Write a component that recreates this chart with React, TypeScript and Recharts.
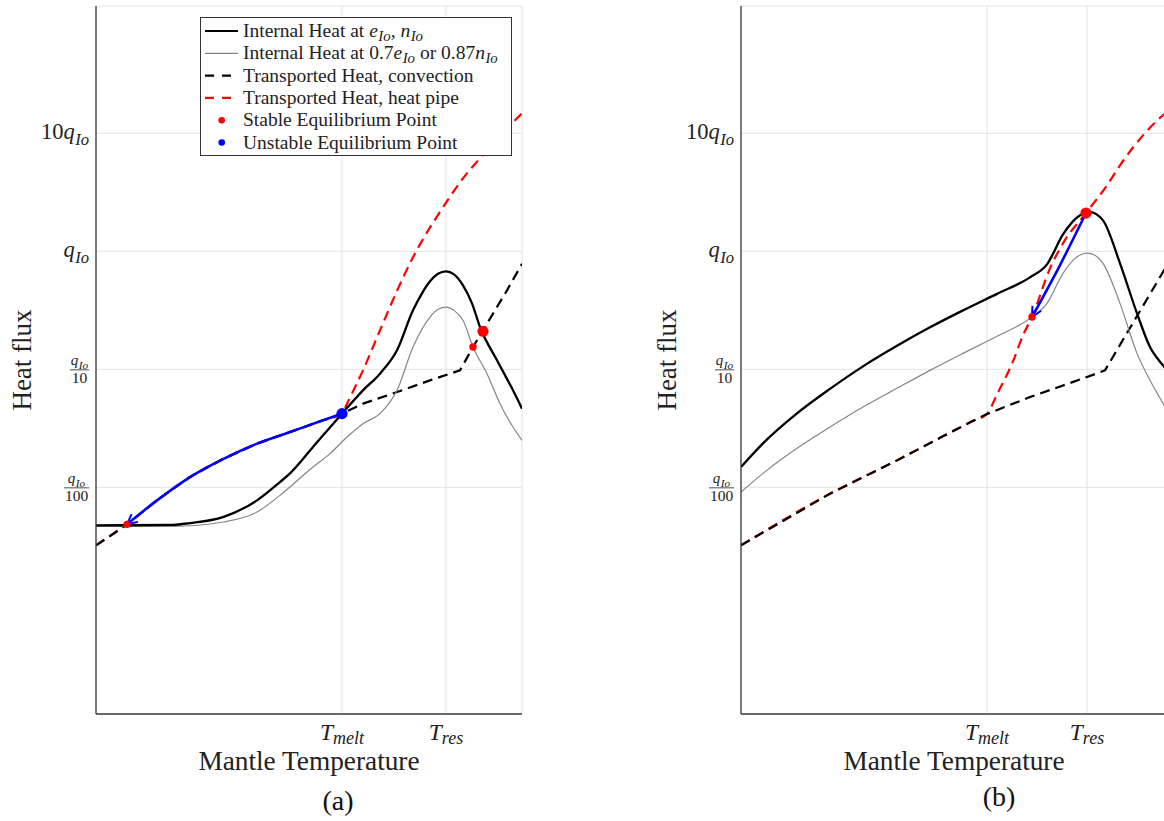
import React from 'react';
import { ComposedChart, Line, Scatter, XAxis, YAxis, CartesianGrid, Legend } from 'recharts';

type Pt = [number, number];

// ---------------- axes ----------------
// x: mantle temperature (arbitrary units across the plotted range)
// y: heat flux in units of q_Io (log scale)
const X_DOMAIN: [number, number] = [0, 426];
const Y_DOMAIN: [number, number] = [1.2e-4, 120];
const yTickValues = [0.01, 0.1, 1, 10];
const yTickPrefix = ['', '', '', '10'];
const yTickDenominator = ['100', '10', '', ''];
const xTickSubscripts = ['melt', 'res'];
const xTicksA = [246, 350];
const xTicksB = [246, 346];

// ---------------- panel (a) ----------------
const internalHeatA: Pt[] = [
  [0, 0.004764], [77, 0.004812], [94, 0.004983], [127, 0.005602], [161, 0.007759], [184, 0.01109],
  [194, 0.01314], [217, 0.02196], [246, 0.04212], [267, 0.06637], [284, 0.09196], [301, 0.1449],
  [317, 0.3162], [326, 0.4406], [334, 0.5568], [342, 0.6446], [350, 0.6768], [358, 0.6383],
  [367, 0.515], [376, 0.3624], [384, 0.2284], [401, 0.1192], [417, 0.06637], [426, 0.04644],
];
const internalHeatLowA: Pt[] = [
  [0, 0.004671], [77, 0.00467], [127, 0.005082], [161, 0.006176], [184, 0.00855], [217, 0.01486],
  [234, 0.0193], [251, 0.02669], [267, 0.03466], [284, 0.04212], [301, 0.06637], [317, 0.1545],
  [334, 0.2774], [342, 0.3225], [350, 0.3373], [358, 0.3162], [367, 0.2602], [377, 0.1545],
  [391, 0.09196], [404, 0.05121], [417, 0.03243], [426, 0.02502],
];
const convectionA: Pt[] = [
  [0, 0.003225], [31, 0.004858], [61, 0.007759], [94, 0.01223], [127, 0.01737], [161, 0.02346],
  [194, 0.02942], [227, 0.03697], [246, 0.04212], [267, 0.05121], [301, 0.06421], [334, 0.08068],
  [364, 0.09806], [377, 0.1545], [387, 0.2141], [411, 0.4671], [426, 0.7837],
];
const heatPipeA: Pt[] = [
  [0, 0.003225], [31, 0.004858], [61, 0.007759], [94, 0.01223], [127, 0.01737], [161, 0.02346],
  [194, 0.02942], [227, 0.03697], [246, 0.04212], [251, 0.05121], [267, 0.09806], [284, 0.2141],
  [299, 0.4238], [317, 0.8895], [324, 1.146], [347, 2.36], [367, 4.155], [384, 6.14], [421, 13.4],
  [426, 14.77],
];
const arrowPathA: Pt[] = [
  [31, 0.004858], [61, 0.007759], [94, 0.01223], [127, 0.01737], [161, 0.02346], [194, 0.02942],
  [227, 0.03697], [246, 0.04212],
];
const stableBigA: Pt[] = [[387, 0.2099]];
const stableSmallA: Pt[] = [[31, 0.004858], [377, 0.1545]];
const unstableA: Pt[] = [[246, 0.04212]];

// ---------------- panel (b) ----------------
const internalHeatB: Pt[] = [
  [0, 0.01486], [22, 0.0236], [56, 0.04236], [89, 0.06835], [122, 0.106], [156, 0.1582],
  [189, 0.227], [222, 0.3162], [256, 0.4363], [289, 0.6021], [306, 0.7758], [322, 1.393],
  [339, 2.019], [349, 2.153], [362, 1.831], [379, 0.7913], [396, 0.2982], [409, 0.1545],
  [422, 0.1081], [426, 0.09806],
];
const internalHeatLowB: Pt[] = [
  [0, 0.009125], [22, 0.01314], [56, 0.02141], [89, 0.03243], [122, 0.04792], [156, 0.06902],
  [189, 0.09806], [222, 0.1366], [256, 0.1905], [289, 0.2704], [306, 0.3624], [322, 0.651],
  [334, 0.8721], [346, 0.9674], [354, 0.925], [362, 0.7913], [379, 0.3624], [396, 0.1366],
  [409, 0.08068], [422, 0.05151], [426, 0.04494],
];
const convectionB: Pt[] = [
  [0, 0.003225], [89, 0.00884], [156, 0.01693], [200, 0.02653], [230, 0.0359], [246, 0.04179],
  [289, 0.05826], [346, 0.08604], [364, 0.09806], [389, 0.2243], [409, 0.4346], [422, 0.6677],
  [426, 0.7628],
];
const heatPipeB: Pt[] = [
  [0, 0.003225], [89, 0.00884], [156, 0.01693], [200, 0.02653], [230, 0.0359], [246, 0.04179],
  [256, 0.06138], [272, 0.1169], [282, 0.1942], [291, 0.2774], [309, 0.7178], [322, 1.169],
  [345, 2.112], [366, 3.625], [379, 5.356], [402, 9.616], [419, 13.53], [426, 15.21],
];
const arrowPathB: Pt[] = [[291, 0.2774], [318, 0.736], [345, 2.112]];
const stableBigB: Pt[] = [[345, 2.112]];
const stableSmallB: Pt[] = [[291, 0.2774]];
const unstableB: Pt[] = [];

// ---------------- legend ----------------
type Part = [string, 'n' | 'i' | 's'];
const legendLabels: Part[][] = [
  [['Internal Heat at ', 'n'], ['e', 'i'], ['Io', 's'], [', ', 'n'], ['n', 'i'], ['Io', 's']],
  [['Internal Heat at 0.7', 'n'], ['e', 'i'], ['Io', 's'], [' or 0.87', 'n'], ['n', 'i'], ['Io', 's']],
  [['Transported Heat, convection', 'n']],
  [['Transported Heat, heat pipe', 'n']],
  [['Stable Equilibrium Point', 'n']],
  [['Unstable Equilibrium Point', 'n']],
];

// ---------------- styles ----------------
const FONT = '"Liberation Serif", "Times New Roman", serif';
const TEXT = '#222';
const AXIS = '#3a3a3a';
const GRID = '#e3e3e3';
const RED = '#ff0000';
const BLUE = '#0000ff';
const GRAY = '#858585';
const DASH = '10 6';

const rows = (pts: Pt[]) => pts.map(([x, y]) => ({ x, y }));

function renderParts(parts: Part[], size: number, subScale = 0.75, subShift = 0.22) {
  let shift = 0;
  return parts.map(([t, k], j) => {
    const target = k === 's' ? size * subShift : 0;
    const dy = target - shift;
    shift = target;
    return (
      <tspan
        key={j}
        dy={dy !== 0 ? dy : undefined}
        dx={k === 's' ? 0.5 : undefined}
        fontStyle={k === 'n' ? 'normal' : 'italic'}
        fontSize={k === 's' ? size * subScale : size}
      >
        {t}
      </tspan>
    );
  });
}

function YTick(props: any) {
  const { x, y, payload } = props;
  const i = yTickValues.indexOf(payload.value);
  if (i < 0) return null;
  const den = yTickDenominator[i];
  const pre = yTickPrefix[i];
  const right = x + 1;
  if (den) {
    const w = den.length === 3 ? 25 : 19;
    const cx = right - w / 2;
    return (
      <g fill={TEXT} fontFamily={FONT}>
        <text x={cx} y={y - 4} textAnchor="middle" fontSize={15} style={{ whiteSpace: 'pre' }}>
          {renderParts([['q', 'i'], ['Io', 's']], 15, 0.75, 0.25)}
        </text>
        <line x1={right - w} x2={right} y1={y + 0.5} y2={y + 0.5} stroke={TEXT} strokeWidth={0.8} />
        <text x={cx} y={y + 14} textAnchor="middle" fontSize={15.5}>{den}</text>
      </g>
    );
  }
  const parts: Part[] = pre ? [[pre, 'n'], ['q', 'i'], ['Io', 's']] : [['q', 'i'], ['Io', 's']];
  return (
    <text x={right} y={y + 6} textAnchor="end" fill={TEXT} fontFamily={FONT} fontSize={22.5} style={{ whiteSpace: 'pre' }}>
      {renderParts(parts, 22.5, 0.74, 0.25)}
    </text>
  );
}

function XTick(props: any) {
  const { x, y, index } = props;
  return (
    <text x={x} y={y + 18} textAnchor="middle" fill={TEXT} fontFamily={FONT} fontStyle="italic" fontSize={23.5}>
      <tspan>T</tspan>
      <tspan fontSize={18} dy={4}>{xTickSubscripts[index]}</tspan>
    </text>
  );
}

function XLabel(props: any) {
  const vb = props.viewBox || { x: 96, width: 426 };
  return (
    <text x={vb.x + vb.width / 2} y={770} textAnchor="middle" fill={TEXT} fontFamily={FONT} fontSize={27.3}>
      Mantle Temperature
    </text>
  );
}

function YLabel() {
  return (
    <text x={31} y={360} transform="rotate(-90 31 360)" textAnchor="middle" fill={TEXT} fontFamily={FONT} fontSize={27}>
      Heat flux
    </text>
  );
}

function LegendBox() {
  const rowY = (i: number) => 14 + i * 22.3;
  return (
    <svg width={312} height={139} style={{ display: 'block' }}>
      <rect x={0.5} y={0.5} width={311} height={138} fill="#fff" stroke="#333" strokeWidth={1} />
      <line x1={5} x2={38} y1={rowY(0)} y2={rowY(0)} stroke="#000" strokeWidth={2.2} />
      <line x1={5} x2={38} y1={rowY(1)} y2={rowY(1)} stroke={GRAY} strokeWidth={1.2} />
      <line x1={5} x2={38} y1={rowY(2)} y2={rowY(2)} stroke="#000" strokeWidth={2.2} strokeDasharray="9 8" />
      <line x1={5} x2={38} y1={rowY(3)} y2={rowY(3)} stroke={RED} strokeWidth={2.2} strokeDasharray="9 8" />
      <circle cx={21.7} cy={rowY(4)} r={3.3} fill={RED} />
      <circle cx={21.7} cy={rowY(5)} r={3.3} fill={BLUE} />
      {legendLabels.map((parts, i) => (
        <text key={i} x={43} y={rowY(i) + 6} fill={TEXT} fontFamily={FONT} fontSize={19.5} style={{ whiteSpace: 'pre' }}>
          {renderParts(parts, 19.5, 0.76, 0.2)}
        </text>
      ))}
    </svg>
  );
}

type PanelProps = {
  left: number;
  xTicks: number[];
  internal: Pt[];
  internalLow: Pt[];
  convection: Pt[];
  heatPipe: Pt[];
  arrow: Pt[];
  bigDots: Pt[];
  smallDots: Pt[];
  blueDots: Pt[];
  legend: boolean;
};

function Panel(p: PanelProps) {
  const axisLine = { stroke: AXIS, strokeWidth: 1.3 };
  return (
    <div style={{ position: 'absolute', left: p.left, top: 0 }}>
      <ComposedChart width={560} height={821} margin={{ top: 6, right: 38, bottom: 47, left: 16 }}>
        <CartesianGrid stroke={GRID} strokeWidth={1} />
        <XAxis
          dataKey="x"
          type="number"
          domain={X_DOMAIN}
          ticks={p.xTicks}
          interval={0}
          allowDataOverflow
          height={60}
          tickLine={false}
          axisLine={axisLine}
          tick={XTick}
          label={{ content: XLabel }}
        />
        <XAxis xAxisId="top" orientation="top" type="number" domain={X_DOMAIN} height={0} tick={false} tickLine={false} axisLine={axisLine} />
        <YAxis
          dataKey="y"
          type="number"
          scale="log"
          domain={Y_DOMAIN}
          ticks={yTickValues}
          interval={0}
          allowDataOverflow
          width={80}
          tickLine={false}
          axisLine={axisLine}
          tick={YTick}
          label={{ content: YLabel }}
        />
        <YAxis yAxisId="right" orientation="right" type="number" domain={[0, 1]} width={0} tick={false} tickLine={false} axisLine={axisLine} />
        {p.legend ? (
          <Legend
            layout="vertical"
            align="center"
            verticalAlign="middle"
            wrapperStyle={{ left: 200, top: 17, width: 312, height: 139 }}
            content={LegendBox}
          />
        ) : null}
        <Line data={rows(p.heatPipe)} dataKey="y" type="monotone" stroke={RED} strokeWidth={2.2} strokeDasharray={DASH} dot={false} activeDot={false} isAnimationActive={false} />
        <Line data={rows(p.convection)} dataKey="y" type="linear" stroke="#000" strokeWidth={2.2} strokeDasharray={DASH} dot={false} activeDot={false} isAnimationActive={false} />
        <Line data={rows(p.internalLow)} dataKey="y" type="monotone" stroke={GRAY} strokeWidth={1.2} dot={false} activeDot={false} isAnimationActive={false} />
        <Line data={rows(p.internal)} dataKey="y" type="monotone" stroke="#000" strokeWidth={2.3} dot={false} activeDot={false} isAnimationActive={false} />
        <Line data={rows(p.arrow)} dataKey="y" type="monotone" stroke={BLUE} strokeWidth={2.6} markerStart="url(#arrowBlue)" dot={false} activeDot={false} isAnimationActive={false} />
        <Scatter data={rows(p.smallDots)} fill={RED} isAnimationActive={false} shape={(s: any) => <circle cx={s.cx} cy={s.cy} r={3.7} fill={RED} />} />
        <Scatter data={rows(p.bigDots)} fill={RED} isAnimationActive={false} shape={(s: any) => <circle cx={s.cx} cy={s.cy} r={5.6} fill={RED} />} />
        <Scatter data={rows(p.blueDots)} fill={BLUE} isAnimationActive={false} shape={(s: any) => <circle cx={s.cx} cy={s.cy} r={5.6} fill={BLUE} />} />
      </ComposedChart>
    </div>
  );
}

export default function App() {
  return (
    <div style={{ position: 'fixed', left: 0, top: 0, width: 1164, height: 821, overflow: 'hidden', background: '#fff' }}>
      <svg width={0} height={0} style={{ position: 'absolute' }}>
        <defs>
          <marker id="arrowBlue" viewBox="0 0 14 14" markerWidth={14} markerHeight={14} refX={12} refY={7} orient="auto-start-reverse" markerUnits="userSpaceOnUse">
            <path d="M2,2 L12,7 L2,12" fill="none" stroke={BLUE} strokeWidth={2} />
          </marker>
        </defs>
      </svg>
      <Panel
        left={0}
        xTicks={xTicksA}
        internal={internalHeatA}
        internalLow={internalHeatLowA}
        convection={convectionA}
        heatPipe={heatPipeA}
        arrow={arrowPathA}
        bigDots={stableBigA}
        smallDots={stableSmallA}
        blueDots={unstableA}
        legend
      />
      <Panel
        left={645}
        xTicks={xTicksB}
        internal={internalHeatB}
        internalLow={internalHeatLowB}
        convection={convectionB}
        heatPipe={heatPipeB}
        arrow={arrowPathB}
        bigDots={stableBigB}
        smallDots={stableSmallB}
        blueDots={unstableB}
        legend={false}
      />
      <svg width={1164} height={821} style={{ position: 'absolute', left: 0, top: 0, pointerEvents: 'none' }}>
        <text x={338} y={810} textAnchor="middle" fill="#111" fontFamily={FONT} fontSize={28}>(a)</text>
        <text x={999} y={806} textAnchor="middle" fill="#111" fontFamily={FONT} fontSize={28}>(b)</text>
      </svg>
    </div>
  );
}
